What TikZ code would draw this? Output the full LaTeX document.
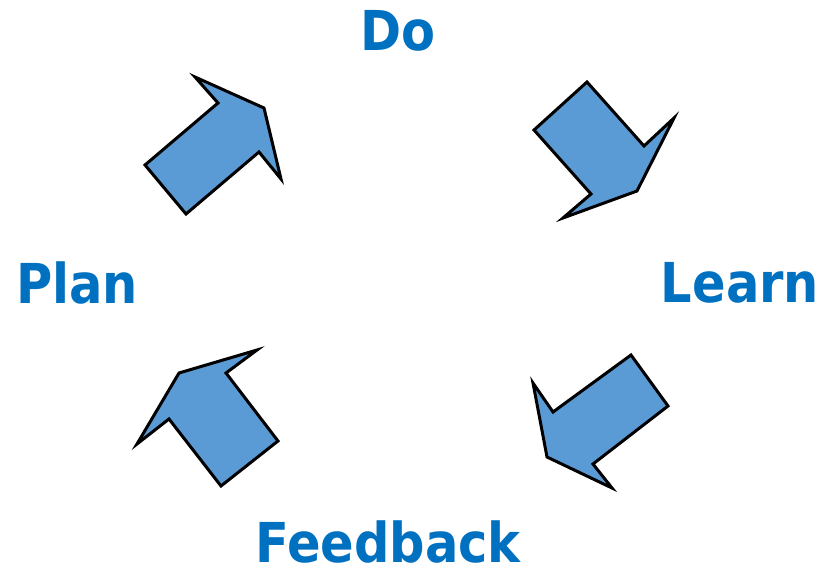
\documentclass[tikz,border=0pt]{standalone}
\usepackage{fontspec}
\newfontfamily\lblfont[FakeStretch=0.9]{DejaVu Sans Bold}
\definecolor{lblblue}{HTML}{0070C0}
\definecolor{arrfill}{HTML}{5B9BD5}
\tikzset{
  lbl/.style={text=lblblue, font=\lblfont\fontsize{55}{60}\selectfont, anchor=base, inner sep=0pt},
  blockarrow/.style={fill=arrfill, draw=black, line width=3pt, line join=miter}
}
\begin{document}
\begin{tikzpicture}[x=1pt,y=-1pt]
\useasboundingbox (0,0) rectangle (819,567);
\node[lbl] (do) at (398,51) {Do};
\node[lbl] (plan) at (77,303) {Plan};
\node[lbl] (learn) at (740,302) {Learn};
\node[lbl] (feedback) at (388,562) {Feedback};
% top-left arrow
\draw[blockarrow] (145,165) -- (186,214) -- (259,152) -- (281,179) -- (264,108) -- (195,77) -- (218,103) -- cycle;
% top-right arrow
\draw[blockarrow] (534,130) -- (587,82) -- (644,146) -- (674,118) -- (637,191) -- (563,218) -- (591,194) -- cycle;
% bottom-right arrow
\draw[blockarrow] (631,355) -- (668,406) -- (593,464) -- (612,488) -- (547,457) -- (533,383) -- (553,412) -- cycle;
% bottom-left arrow
\draw[blockarrow] (257,350) -- (226,373) -- (278,441) -- (221,486) -- (169,419) -- (137,444) -- (179,373) -- cycle;
\end{tikzpicture}
\end{document}
